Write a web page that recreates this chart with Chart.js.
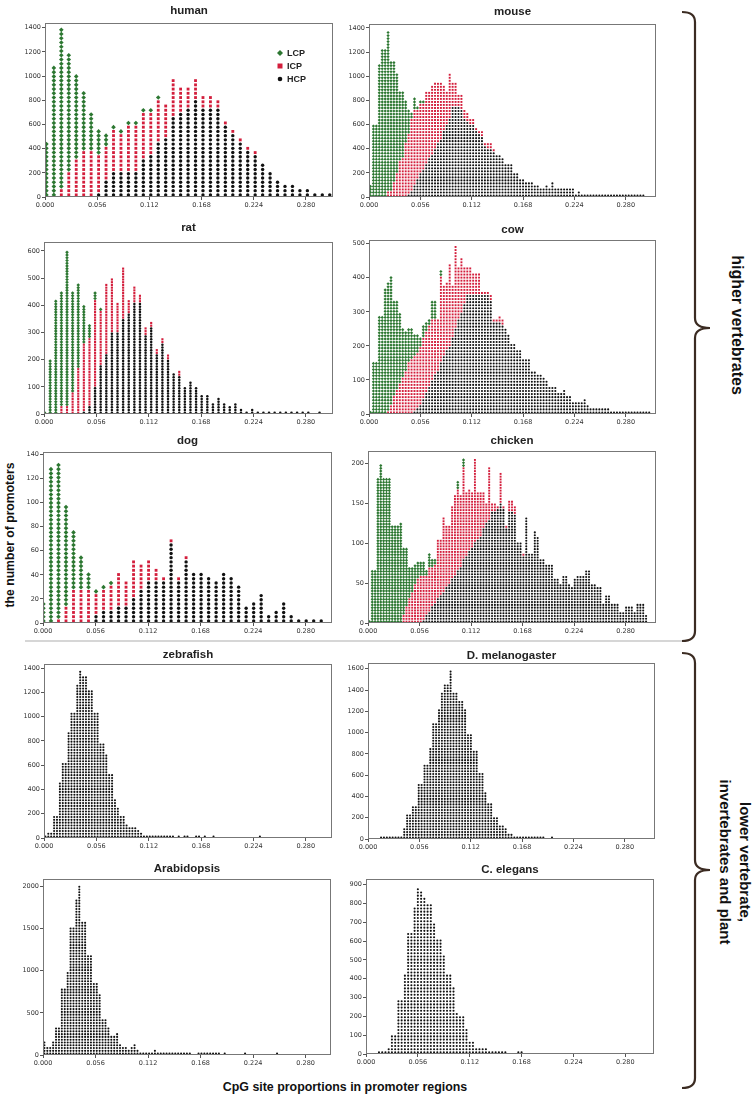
<!DOCTYPE html>
<html>
<head>
<meta charset="utf-8">
<script src="https://cdn.jsdelivr.net/npm/chart.js@4.4.0/dist/chart.umd.min.js"></script>
<style>
  body { margin: 0; background: #fff; width: 755px; height: 1098px; position: relative; overflow: hidden; font-family: "Liberation Sans", Arial, sans-serif; }
  canvas { position: absolute; }
  .title { position: absolute; font-weight: bold; font-size: 11.5px; line-height: 14px; color: #222; transform: translateX(-50%); white-space: nowrap; }
  .lab { position: absolute; font-weight: bold; color: #111; white-space: nowrap; }
  svg { position: absolute; left: 0; top: 0; }
</style>
</head>
<body>
<svg width="755" height="1098">
  <line x1="25" y1="641" x2="682" y2="641" stroke="#c8c8c8" stroke-width="1.5"/>
  <path d="M682,12 Q695,12 695,22 L695,318 Q695,328 710,328 Q695,328 695,338 L695,631 Q695,641 682,641" fill="none" stroke="#3b2b22" stroke-width="2.2"/>
  <path d="M682,653 Q695,653 695,663 L695,860 Q695,870 710,870 Q695,870 695,880 L695,1078 Q695,1088 682,1088" fill="none" stroke="#3b2b22" stroke-width="2.2"/>
</svg>
<div class="lab" style="left:10px;top:535px;font-size:12.2px;transform:translate(-50%,-50%) rotate(-90deg);">the number of promoters</div>
<div class="lab" style="left:345px;top:1087px;font-size:12.4px;transform:translate(-50%,-50%);">CpG site proportions in promoter regions</div>
<div class="lab" style="left:737px;top:325px;font-size:16px;font-family:'Liberation Sans Narrow','Liberation Sans',sans-serif;transform:translate(-50%,-50%) rotate(90deg);">higher vertebrates</div>
<div class="lab" style="left:735px;top:862px;font-size:15px;line-height:20px;text-align:center;transform:translate(-50%,-50%) rotate(90deg);">lower vertebrate,<br>invertebrates and plant</div>

<script>
// x ticks shared by every panel
const xTicks = [0, 0.056, 0.112, 0.168, 0.224, 0.280];
const seriesNames = ['HCP', 'ICP', 'LCP'];

// bins: [first bin position, bin width]
const humanBin = [0.0015, 0.008];
const humanHCP = [0,0,0,0,0,0,0,50,150,220,220,220,220,310,340,440,500,660,690,720,790,720,720,720,600,530,470,400,340,280,220,150,120,90,55,55,25,25,25];
const humanICP = [0,0,60,220,320,380,380,330,290,360,320,370,380,380,350,340,290,310,220,190,160,100,100,70,30,30,30,30,30];
const humanLCP = [440,1090,1320,970,710,500,310,210,120,40,20,30,20,20,20,20];

const mouseBin = [0.0016, 0.0032];
const mouseHCP = [0,0,0,0,0,0,0,0,0,0,0,0,0,
  20,60,100,150,200,230,270,320,360,400,440,480,550,600,650,750,750,750,720,650,620,600,600,560,520,500,420,400,400,380,
  360,360,320,270,270,270,200,200,160,160,130,130,130,100,100,70,70,100,70,130,70,70,70,70,70,70,70,25,50,
  25,25,25,25,25,25,25,25,25,25,25,25,25,25,25,25,25,25,25,25,25,25];
const mouseICP = [0,0,0,0,0,0,40,60,120,200,300,330,450,500,600,620,580,580,560,600,550,570,560,490,480,380,270,380,210,210,100,130,70,70,50,50,30,30,50,20,40,40,20];
const mouseLCP = [100,600,600,1090,1230,1230,1330,1070,1010,830,580,550,340,200,60,90,20,30,30];

const ratBin = [0.0006, 0.006];
const ratHCP = [0,0,0,0,0,0,0,10,30,100,180,220,300,300,350,370,410,410,290,320,220,260,200,150,140,100,120,100,70,70,40,60,40,30,40,20,10,20,10,10,10,10,10,10,10,10,10,10,0,10];
const ratICP = [0,0,0,30,30,80,170,250,250,320,200,260,200,110,190,50,60,30,30,20,20,20,20,0,20];
const ratLCP = [10,200,420,420,570,370,310,140,50,30,10];

const cowBin = [0.0016, 0.0032];
const cowHCP = [0,0,0,0,0,0,0,0,0,0,0,0,0,0,0,
  10,20,30,45,60,80,100,115,130,150,170,185,200,225,250,275,300,325,350,350,350,350,350,350,350,350,330,270,270,270,260,
  250,230,210,210,190,190,160,160,160,130,130,120,120,110,100,80,80,80,60,60,70,50,50,40,40,40,40,45,30,20,
  20,20,20,20,20,20,10,10,10,10,10,10,10,10,10,10,10,10,10,10];
const cowICP = [0,0,0,0,0,0,10,30,50,70,90,110,130,150,160,160,160,170,180,180,180,180,160,150,250,210,195,240,155,240,155,160,105,80,80,60,60,60,10,10,10,20,10,10,20,20];
const cowLCP = [10,150,150,290,290,370,380,375,280,260,210,140,120,100,90,60,50,30,35,30,20,50,55,0,20];

const dogBin = [0.0005, 0.008];
const dogHCP = [0,0,0,0,0,0,0,8,10,12,15,15,22,27,35,35,35,67,35,51,43,43,39,35,43,39,31,15,19,23,7,11,19,7,3,3,3,3];
const dogICP = [0,0,4,15,27,27,27,19,17,22,28,20,33,20,16,12,4,4,4,4];
const dogLCP = [18,130,131,85,48,28,13,3,3,4];

const chickenBin = [0.0015, 0.0031];
const chickenHCP = [0,0,0,0,0,0,0,0,0,0,0,0,0,0,0,0,0,0,0,
  5,10,15,20,25,30,35,40,45,50,55,60,65,70,80,85,90,95,100,105,110,120,125,130,140,140,145,150,145,120,
  140,140,135,100,100,84,133,88,88,115,110,82,82,75,75,75,55,55,50,60,60,50,45,55,60,60,60,65,65,50,
  50,45,45,25,35,35,25,25,25,15,15,20,20,20,15,25,25,25,10];
const chickenICP = [0,0,0,0,0,0,0,0,0,0,0,0,10,20,30,40,50,55,60,55,50,55,50,50,75,70,93,77,72,90,100,100,90,115,81,76,71,105,61,56,46,25,65,10,10,5,40,5,2,15,15,10,0,0,4];
const chickenLCP = [5,65,65,183,200,183,183,183,122,122,122,127,83,73,40,30,26,21,16,16,8,16,11,6,0,0,0,0,0,0,0,12,0,10];

const zebrafishBin = [0.0015, 0.0031];
const zebrafishCounts = [10,50,50,190,190,450,620,620,870,1040,1040,1270,1370,1340,1340,1210,1210,1040,1040,780,780,680,520,520,320,250,190,190,120,90,90,90,60,40,
  10,10,10,10,10,10,10,10,10,10,10,0,10,0,10,10,0,0,10,10,0,10,0,0,10,0,0,0,0,0,0,0,0,0,0,0,0,0,0,0,10];

const dmelBin = [0.0016, 0.00316];
const dmelCounts = [0,0,0,0,10,10,10,10,10,10,10,20,110,230,230,300,300,510,510,700,700,860,1100,1100,1220,1370,1460,1460,1580,1380,1380,1300,1300,1220,1000,1000,820,820,620,620,440,350,350,200,200,130,130,110,60,60,20,10,10,10,10,10,10,10,10,10,10,0,0,10];

const arabidopsisBin = [0.0015, 0.0031];
const arabidopsisCounts = [180,90,90,180,320,320,800,800,1000,1520,1520,1860,2000,1580,1580,1180,1180,850,850,710,420,420,320,220,220,270,120,90,90,60,90,120,60,
  20,20,20,20,20,80,20,20,20,20,20,20,20,20,20,20,20,20,0,0,20,20,20,20,20,20,20,20,0,20,0,0,0,0,0,0,20,0,0,0,0,0,0,0,0,0,0,20];

const celegansBin = [0, 0.0035];
const celegansCounts = [0,0,0,0,15,15,15,40,110,110,290,290,420,640,650,780,890,860,840,800,800,690,620,620,530,420,420,350,220,200,200,130,60,60,40,40,40,40,15,15,15,15,15,15,0,0,0,15,15];

const ticks1400 = [0,200,400,600,800,1000,1200,1400];
const ticks600 = [0,100,200,300,400,500,600];
const ticks500 = [0,100,200,300,400,500];
const ticks140 = [0,20,40,60,80,100,120,140];
const ticks200 = [0,50,100,150,200];
const ticks1600 = [0,200,400,600,800,1000,1200,1400,1600];
const ticks2000 = [0,500,1000,1500,2000];
const ticks900 = [0,100,200,300,400,500,600,700,800,900];

// marker sizes by column density
const markRadius = {
  sparse: [1.7, 2.0, 2.3],
  mid: [1.25, 1.5, 1.8],
  dense: [1.05, 1.35, 1.6]
};

// layout: plot box [left, top, right, bottom] in page px, title centre y
const panels = [
  { title: 'human', box: [45, 23, 333, 197], ty: 10, xMax: 0.309, yMax: 1439, yTicks: ticks1400, bin: humanBin, unit: 35, series: [humanHCP, humanICP, humanLCP], size: 'sparse', legend: true },
  { title: 'mouse', box: [369, 24, 656, 197], ty: 11, xMax: 0.313, yMax: 1433, yTicks: ticks1400, bin: mouseBin, unit: 25, series: [mouseHCP, mouseICP, mouseLCP], size: 'dense' },
  { title: 'rat', box: [44, 242, 333, 414], ty: 227, xMax: 0.309, yMax: 633, yTicks: ticks600, bin: ratBin, unit: 10, series: [ratHCP, ratICP, ratLCP], size: 'mid' },
  { title: 'cow', box: [369, 240, 656, 414], ty: 229, xMax: 0.313, yMax: 511, yTicks: ticks500, bin: cowBin, unit: 9, series: [cowHCP, cowICP, cowLCP], size: 'dense' },
  { title: 'dog', box: [43, 452, 332, 623], ty: 440, xMax: 0.308, yMax: 142, yTicks: ticks140, bin: dogBin, unit: 3.5, series: [dogHCP, dogICP, dogLCP], size: 'sparse' },
  { title: 'chicken', box: [368, 451, 656, 623], ty: 440, xMax: 0.313, yMax: 216, yTicks: ticks200, bin: chickenBin, unit: 3.5, series: [chickenHCP, chickenICP, chickenLCP], size: 'dense' },
  { title: 'zebrafish', box: [44, 664, 332, 838], ty: 654, xMax: 0.308, yMax: 1433, yTicks: ticks1400, bin: zebrafishBin, unit: 23, series: [zebrafishCounts], size: 'dense' },
  { title: 'D. melanogaster', box: [368, 663, 655, 839], ty: 655, xMax: 0.313, yMax: 1654, yTicks: ticks1600, bin: dmelBin, unit: 26, series: [dmelCounts], size: 'dense' },
  { title: 'Arabidopsis', box: [43, 879, 331, 1055], ty: 868, xMax: 0.307, yMax: 2088, yTicks: ticks2000, bin: arabidopsisBin, unit: 33, series: [arabidopsisCounts], size: 'dense' },
  { title: 'C. elegans', box: [366, 879, 654, 1054], ty: 869, xMax: 0.311, yMax: 930, yTicks: ticks900, bin: celegansBin, unit: 17, series: [celegansCounts], size: 'dense' }
];

const markColors = ['#111111', '#d31e3c', '#2c7731'];
const markStyles = ['circle', 'rect', 'rectRot'];
const tickFont = { family: 'DejaVu Sans', size: 6.5 };

// turn counts per bin into stacked dots, bottom series first
function stackDots(bin, unit, series) {
  const out = series.map(() => []);
  const n = Math.max(...series.map(s => s.length));
  for (let i = 0; i < n; i++) {
    const x = bin[0] + bin[1] * i;
    let level = 0;
    series.forEach((s, k) => {
      const c = s[i] || 0;
      let m = Math.round(c / unit);
      if (c > 0 && m < 1) m = 1;
      for (let j = 0; j < m; j++) out[k].push({ x: x, y: (level + j + 0.5) * unit });
      level += m;
    });
  }
  return out;
}

const framePlugin = {
  id: 'frame',
  afterDatasetsDraw(chart) {
    const a = chart.chartArea, ctx = chart.ctx;
    ctx.save();
    ctx.strokeStyle = '#777';
    ctx.lineWidth = 1;
    ctx.strokeRect(a.left + 0.5, a.top + 0.5, a.right - a.left - 1, a.bottom - a.top - 1);
    ctx.restore();
  }
};

const legendPlugin = {
  id: 'dotLegend',
  afterDraw(chart, args, opts) {
    if (!opts.show) return;
    const a = chart.chartArea, ctx = chart.ctx;
    const labels = ['LCP', 'ICP', 'HCP'];
    const idx = [2, 1, 0];
    ctx.save();
    ctx.font = 'bold 9px "Liberation Sans", Arial, sans-serif';
    ctx.textBaseline = 'middle';
    labels.forEach((t, r) => {
      const x = a.left + 235, y = a.top + 30 + r * 13;
      const k = idx[r];
      ctx.fillStyle = markColors[k];
      ctx.beginPath();
      if (k === 2) { ctx.moveTo(x, y - 3); ctx.lineTo(x + 3, y); ctx.lineTo(x, y + 3); ctx.lineTo(x - 3, y); ctx.closePath(); }
      else if (k === 1) { ctx.rect(x - 2.5, y - 2.5, 5, 5); }
      else { ctx.arc(x, y, 2.3, 0, Math.PI * 2); }
      ctx.fill();
      ctx.fillStyle = '#222';
      ctx.fillText(t, x + 7, y + 0.5);
    });
    ctx.restore();
  }
};

panels.forEach(p => {
  const [L, T, R, B] = p.box;
  const cv = document.createElement('canvas');
  cv.width = R - L + 48;
  cv.height = B - T + 26;
  cv.style.left = (L - 40) + 'px';
  cv.style.top = (T - 8) + 'px';
  document.body.appendChild(cv);

  const tt = document.createElement('div');
  tt.className = 'title';
  tt.textContent = p.title;
  tt.style.left = ((L + R) / 2) + 'px';
  tt.style.top = (p.ty - 7) + 'px';
  document.body.appendChild(tt);

  const stacks = stackDots(p.bin, p.unit, p.series);
  const radii = markRadius[p.size];
  const datasets = stacks.map((pts, k) => ({
    label: seriesNames[k],
    data: pts,
    pointStyle: markStyles[k],
    pointRadius: radii[k],
    backgroundColor: markColors[k],
    borderWidth: 0
  }));

  new Chart(cv, {
    type: 'scatter',
    data: { datasets: datasets },
    plugins: [framePlugin, legendPlugin],
    options: {
      responsive: false,
      animation: false,
      devicePixelRatio: 1,
      events: [],
      layout: { padding: { left: 0, top: 8, right: 8, bottom: 0 } },
      plugins: {
        legend: { display: false },
        tooltip: { enabled: false },
        dotLegend: { show: !!p.legend }
      },
      scales: {
        x: {
          type: 'linear',
          min: 0,
          max: p.xMax,
          afterBuildTicks: s => { s.ticks = xTicks.map(v => ({ value: v })); },
          afterFit: s => { s.height = 18; },
          ticks: { font: tickFont, color: '#333', padding: 1, maxRotation: 0, autoSkip: false, callback: v => Number(v).toFixed(3) },
          grid: { display: true, drawOnChartArea: false, drawTicks: true, tickLength: 3, color: '#555' },
          border: { display: false }
        },
        y: {
          type: 'linear',
          min: 0,
          max: p.yMax,
          afterBuildTicks: s => { s.ticks = p.yTicks.map(v => ({ value: v })); },
          afterFit: s => { s.width = 40; },
          ticks: { font: tickFont, color: '#333', padding: 1, autoSkip: false, callback: v => String(v) },
          grid: { display: true, drawOnChartArea: false, drawTicks: true, tickLength: 3, color: '#555' },
          border: { display: false }
        }
      }
    }
  });
});
</script>
</body>
</html>
